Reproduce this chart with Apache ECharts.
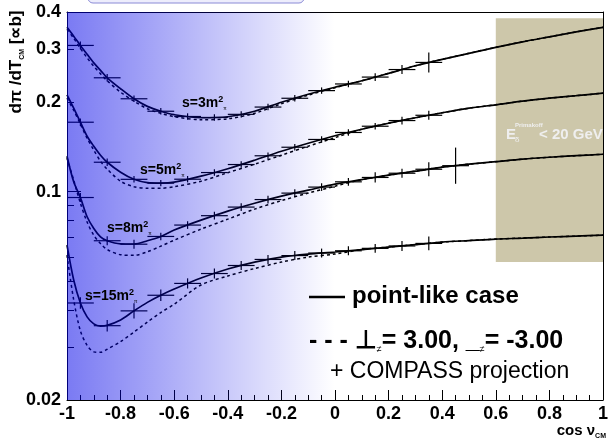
<!DOCTYPE html>
<html><head><meta charset="utf-8">
<script src="https://cdn.jsdelivr.net/npm/echarts@6/dist/echarts.min.js"></script>
<style>html,body{margin:0;padding:0;background:#fff}#c{width:611px;height:439px}</style>
</head><body><div id="c"></div>
<script>
// ---- data ----
const X = [-1, -0.975, -0.95, -0.925, -0.9, -0.875, -0.85, -0.8, -0.75, -0.7, -0.65, -0.6, -0.5, -0.4, -0.3, -0.2, -0.1, 0, 0.1, 0.2, 0.3, 0.4, 0.5, 0.6, 0.7, 0.8, 0.9, 1];
// point-like case (solid)
const S1 = [0.3554, 0.332, 0.309, 0.2886, 0.270, 0.255, 0.2407, 0.2212, 0.2047, 0.193, 0.1859, 0.181, 0.1768, 0.1782, 0.1859, 0.1993, 0.212, 0.2237, 0.2352, 0.2491, 0.2641, 0.2776, 0.2907, 0.3045, 0.3178, 0.3302, 0.343, 0.3554];
const S2 = [0.211, 0.1903, 0.1708, 0.1533, 0.1419, 0.1324, 0.1254, 0.1161, 0.1099, 0.1071, 0.1067, 0.1075, 0.1126, 0.1193, 0.1274, 0.1365, 0.1452, 0.1539, 0.1618, 0.1695, 0.1768, 0.1837, 0.1903, 0.1954, 0.2009, 0.2056, 0.2096, 0.2137];
const S3 = [0.1314, 0.1078, 0.0955, 0.0823, 0.0752, 0.0705, 0.0684, 0.0668, 0.0667, 0.0684, 0.0707, 0.0743, 0.0802, 0.086, 0.0914, 0.0965, 0.1011, 0.1059, 0.1096, 0.1135, 0.117, 0.1207, 0.1235, 0.1259, 0.1284, 0.1303, 0.1319, 0.1334];
const S4 = [0.0661, 0.0505, 0.0423, 0.038, 0.036, 0.0354, 0.0356, 0.0371, 0.0398, 0.0425, 0.0449, 0.0471, 0.0513, 0.055, 0.058, 0.0603, 0.0617, 0.0627, 0.0639, 0.0651, 0.0664, 0.0677, 0.0685, 0.0693, 0.0698, 0.0704, 0.0709, 0.0714];
// polarizabilities 3.00 / -3.00 (dashed)
const D1 = [0.350, 0.3265, 0.302, 0.2809, 0.263, 0.2483, 0.2352, 0.2153, 0.2009, 0.1895, 0.183, 0.1782, 0.1741, 0.1754, 0.183, 0.197, 0.2104, 0.2229, 0.2352, 0.2491, 0.2641, 0.2776, 0.2907, 0.3045, 0.3178, 0.3302, 0.343, 0.3554];
const D2 = [0.2056, 0.1873, 0.1682, 0.151, 0.1376, 0.1264, 0.1189, 0.1083, 0.1038, 0.1026, 0.1026, 0.1038, 0.1083, 0.1157, 0.1235, 0.1324, 0.1419, 0.1516, 0.1618, 0.1695, 0.1768, 0.1837, 0.1903, 0.1954, 0.2009, 0.2056, 0.2096, 0.2137];
const D3 = [0.1294, 0.1092, 0.0914, 0.079, 0.0714, 0.0669, 0.0639, 0.0614, 0.0611, 0.0628, 0.0656, 0.0687, 0.0748, 0.0808, 0.0873, 0.0932, 0.0988, 0.1042, 0.1096, 0.1135, 0.117, 0.1207, 0.1235, 0.1259, 0.1284, 0.1303, 0.1319, 0.1334];
const D4 = [0.0612, 0.0433, 0.0341, 0.0305, 0.029, 0.0289, 0.0296, 0.0314, 0.0338, 0.0365, 0.0393, 0.0419, 0.0486, 0.0521, 0.0552, 0.058, 0.0603, 0.0617, 0.0639, 0.0651, 0.0664, 0.0677, 0.0685, 0.0693, 0.0698, 0.0704, 0.0709, 0.0714];
// COMPASS projection (bin centres, values, relative errors)
const BINS = [-0.95, -0.85, -0.75, -0.65, -0.55, -0.45, -0.35, -0.25, -0.15, -0.05, 0.05, 0.15, 0.25, 0.35, 0.45];
const BIN_HALF = 0.05;
const P1 = [0.309, 0.2407, 0.2047, 0.1859, 0.1785, 0.1772, 0.1815, 0.192, 0.2055, 0.218, 0.2295, 0.242, 0.2565, 0.271];
const P2 = [0.1708, 0.1254, 0.1099, 0.1067, 0.11, 0.1158, 0.1232, 0.1318, 0.1408, 0.1495, 0.1578, 0.1656, 0.173, 0.1802];
const P3 = [0.0955, 0.0684, 0.0666, 0.0707, 0.0772, 0.083, 0.0887, 0.094, 0.0988, 0.1035, 0.1078, 0.1115, 0.1152, 0.1188, 0.1221];
const P4 = [0.0423, 0.0355, 0.0398, 0.0449, 0.0492, 0.0531, 0.0565, 0.0592, 0.061, 0.0622, 0.0633, 0.0645, 0.0657, 0.067];
const E1 = [0.03, 0.03, 0.025, 0.025, 0.025, 0.025, 0.025, 0.025, 0.025, 0.025, 0.025, 0.03, 0.035, 0.08];
const E2 = [0.03, 0.03, 0.025, 0.025, 0.025, 0.025, 0.025, 0.025, 0.025, 0.025, 0.025, 0.025, 0.03, 0.035];
const E3 = [0.035, 0.035, 0.035, 0.03, 0.03, 0.03, 0.03, 0.03, 0.03, 0.03, 0.03, 0.04, 0.035, 0.055, 0.15];
const E4 = [0.045, 0.045, 0.06, 0.045, 0.04, 0.04, 0.035, 0.035, 0.035, 0.035, 0.035, 0.035, 0.04, 0.055];
// axes
const X_MIN = -1, X_MAX = 1, X_STEP = 0.2;
const Y_MIN = 0.02, Y_MAX = 0.4;
const Y_LABELS = [0.02, 0.1, 0.2, 0.3, 0.4];
const Y_MINOR = [0.03, 0.04, 0.05, 0.06, 0.07, 0.08, 0.09, 0.2, 0.3];
const Y_MAJOR = [0.1];
// regions
const BLUE_REGION = [[-1, 0.02], [0, 0.4]];
const TAN_REGION = [[0.6, 0.058], [1, 0.381]];

// ---- chart ----
const FONT = 'Liberation Sans, Arial, Helvetica, sans-serif';
const L = Math.log10;
const chart = echarts.init(document.getElementById('c'), null, {renderer: 'canvas'});

function pairs(xs, ys) { return ys.map((y, i) => [xs[i], y]); }
function crossData(vals, errs) { return vals.map((v, i) => [BINS[i], v, errs[i]]); }

function lineSeries(ys, dashed) {
  return {
    type: 'line', xAxisIndex: 0, yAxisIndex: 0, data: pairs(X, ys), smooth: 0.3,
    showSymbol: false, symbol: 'none', z: 3, silent: true,
    lineStyle: {color: '#000', width: dashed ? 1.5 : 1.7, type: dashed ? [3, 3] : 'solid'}
  };
}
function crossSeries(vals, errs) {
  return {
    type: 'custom', xAxisIndex: 0, yAxisIndex: 0, z: 4, silent: true,
    data: crossData(vals, errs), encode: {x: 0, y: 1},
    renderItem: function (params, api) {
      const x = api.value(0), y = api.value(1), e = api.value(2);
      const a = api.coord([x - BIN_HALF, y]), b = api.coord([x + BIN_HALF, y]);
      const t = api.coord([x, y * (1 + e)]), u = api.coord([x, y / (1 + e)]);
      const st = {stroke: '#000', lineWidth: 1.2};
      return {type: 'group', children: [
        {type: 'line', shape: {x1: a[0], y1: a[1], x2: b[0], y2: b[1]}, style: st},
        {type: 'line', shape: {x1: t[0], y1: t[1], x2: u[0], y2: u[1]}, style: st}
      ]};
    }
  };
}

const sLabelRich = {
  m: {fontSize: 14, fontWeight: 'bold', fontFamily: FONT, color: '#50507e', lineHeight: 16},
  p: {fontSize: 9, fontWeight: 'bold', fontFamily: FONT, color: '#50507e', verticalAlign: 'top', lineHeight: 9},
  q: {fontSize: 5, fontFamily: FONT, color: '#50507e', verticalAlign: 'bottom', lineHeight: 5}
};
function sLabel(txt, x, y) {
  return {type: 'text', x: x, y: y, z: 20, silent: true,
    style: {text: '{m|' + txt + '}{p|2}{q|π}', rich: sLabelRich, align: 'left', verticalAlign: 'middle'}};
}

const option = {
  animation: false,
  backgroundColor: '#fff',
  grid: {left: 67, top: 12, width: 540, height: 388, containLabel: false},
  xAxis: [
    {type: 'value', min: X_MIN, max: X_MAX, interval: X_STEP, position: 'bottom',
      axisLine: {show: true, onZero: false, lineStyle: {color: '#000', width: 1}},
      axisTick: {show: true, inside: true, length: 10, lineStyle: {color: '#000', width: 1}},
      minorTick: {show: true, splitNumber: 4, length: 5, lineStyle: {color: '#000', width: 1}},
      axisLabel: {show: true, margin: 5, fontSize: 18, fontWeight: 'bold', fontFamily: FONT, color: '#000',
        formatter: v => String(Number(v.toFixed(1)))},
      splitLine: {show: false}, minorSplitLine: {show: false}},
    {type: 'value', min: X_MIN, max: X_MAX, position: 'top',
      axisLine: {show: true, onZero: false, lineStyle: {color: '#000', width: 1}},
      axisTick: {show: false}, axisLabel: {show: false}, splitLine: {show: false}}
  ],
  yAxis: [
    {type: 'log', logBase: 10, min: Y_MIN, max: Y_MAX, position: 'left',
      axisLine: {show: true, onZero: false, lineStyle: {color: '#000', width: 1}},
      axisTick: {show: false}, axisLabel: {show: false}, splitLine: {show: false}, minorTick: {show: false}},
    {type: 'value', min: L(Y_MIN), max: L(Y_MAX), position: 'left',
      axisLine: {show: false, onZero: false},
      axisTick: {show: true, inside: true, length: 7, customValues: Y_MINOR.map(L), lineStyle: {color: '#000', width: 1}},
      axisLabel: {show: true, margin: 6, fontSize: 18, fontWeight: 'bold', fontFamily: FONT, color: '#000',
        padding: [5, 0, 0, 0],
        customValues: Y_LABELS.map(L), formatter: v => String(Number(Math.pow(10, v).toPrecision(2)))},
      splitLine: {show: false}},
    {type: 'value', min: L(Y_MIN), max: L(Y_MAX), position: 'left',
      axisLine: {show: false, onZero: false},
      axisTick: {show: true, inside: true, length: 14, customValues: Y_MAJOR.map(L), lineStyle: {color: '#000', width: 1}},
      axisLabel: {show: false}, splitLine: {show: false}},
    {type: 'log', logBase: 10, min: Y_MIN, max: Y_MAX, position: 'right',
      axisLine: {show: true, onZero: false, lineStyle: {color: '#000', width: 1}},
      axisTick: {show: false}, axisLabel: {show: false}, splitLine: {show: false}}
  ],
  series: [
    {type: 'line', xAxisIndex: 0, yAxisIndex: 0, data: [[0.8, 0.1]], showSymbol: false, symbol: 'none',
      lineStyle: {opacity: 0}, silent: true,
      markArea: {z: 1, silent: true, label: {show: false},
        data: [[{coord: TAN_REGION[0], itemStyle: {color: '#cdc7aa'}}, {coord: TAN_REGION[1]}]]}},
    lineSeries(S1, false), lineSeries(S2, false), lineSeries(S3, false), lineSeries(S4, false),
    lineSeries(D1, true), lineSeries(D2, true), lineSeries(D3, true), lineSeries(D4, true),
    crossSeries(P1, E1), crossSeries(P2, E2), crossSeries(P3, E3), crossSeries(P4, E4),
    {type: 'line', xAxisIndex: 0, yAxisIndex: 0, data: [[-0.5, 0.1]], showSymbol: false, symbol: 'none',
      lineStyle: {opacity: 0}, silent: true,
      markArea: {z: 10, silent: true, label: {show: false},
        data: [[{coord: BLUE_REGION[0], itemStyle: {color: {type: 'linear', x: 0, y: 0, x2: 1, y2: 0,
          colorStops: [{offset: 0, color: 'rgba(0,0,232,0.52)'}, {offset: 1, color: 'rgba(0,0,232,0)'}]}}},
          {coord: BLUE_REGION[1]}]]}}
  ],
  graphic: {elements: [
    // clipped title box at the top
    {type: 'rect', z: 20, silent: true, shape: {x: 88, y: -16, width: 216, height: 19, r: 5},
      style: {fill: '#ededfc', stroke: '#8a8ad6', lineWidth: 1}},
    // y title
    {type: 'text', z: 20, silent: true, x: 16, y: 62, rotation: Math.PI / 2,
      style: {text: '{b|dπ /dT}{s|CM}{b| [∝b]}', align: 'center', verticalAlign: 'middle',
        rich: {b: {fontSize: 17, fontWeight: 'bold', fontFamily: FONT, color: '#000', lineHeight: 20},
               s: {fontSize: 7, fontWeight: 'bold', fontFamily: FONT, color: '#000', verticalAlign: 'bottom', lineHeight: 9}}}},
    // x title
    {type: 'text', z: 20, silent: true, x: 606, y: 431,
      style: {text: '{b|cos ν}{s|CM}', align: 'right', verticalAlign: 'middle',
        rich: {b: {fontSize: 15, fontWeight: 'bold', fontFamily: FONT, color: '#000', lineHeight: 17},
               s: {fontSize: 7, fontWeight: 'bold', fontFamily: FONT, color: '#000', verticalAlign: 'bottom', lineHeight: 8}}}},
    // curve labels
    sLabel('s=3m', 182, 103), sLabel('s=5m', 140, 170), sLabel('s=8m', 107, 228), sLabel('s=15m', 85, 296),
    // tan box text
    {type: 'text', z: 20, silent: true, x: 506, y: 135,
      style: {text: 'E', fontSize: 15, fontWeight: 'bold', fontFamily: FONT, fill: '#efefef', align: 'left', verticalAlign: 'middle'}},
    {type: 'text', z: 20, silent: true, x: 515, y: 125,
      style: {text: 'Primakoff', fontSize: 6, fontWeight: 'bold', fontFamily: FONT, fill: '#efefef', align: 'left', verticalAlign: 'middle'}},
    {type: 'text', z: 20, silent: true, x: 515, y: 140,
      style: {text: 'δ', fontSize: 8, fontFamily: FONT, fill: '#efefef', align: 'left', verticalAlign: 'middle'}},
    {type: 'text', z: 20, silent: true, x: 539, y: 135,
      style: {text: '< 20 GeV', fontSize: 15, fontWeight: 'bold', fontFamily: FONT, fill: '#efefef', align: 'left', verticalAlign: 'middle'}},
    // legend-like text
    {type: 'line', z: 20, silent: true, shape: {x1: 309, y1: 297, x2: 345, y2: 297}, style: {stroke: '#000', lineWidth: 2.5}},
    {type: 'text', z: 20, silent: true, x: 352, y: 296,
      style: {text: 'point-like case', fontSize: 24, fontWeight: 'bold', fontFamily: FONT, fill: '#000', align: 'left', verticalAlign: 'middle'}},
    {type: 'text', z: 20, silent: true, x: 309, y: 341,
      style: {text: '{b|- - - ⊥}{s|≠}{b|= 3.00, _}{s|≠}{b|= -3.00}', align: 'left', verticalAlign: 'middle',
        rich: {b: {fontSize: 25, fontWeight: 'bold', fontFamily: FONT, color: '#000', lineHeight: 26},
               s: {fontSize: 9, fontFamily: FONT, color: '#000', verticalAlign: 'bottom', lineHeight: 9}}}},
    {type: 'text', z: 20, silent: true, x: 330, y: 372,
      style: {text: '+ COMPASS projection', fontSize: 23, fontFamily: FONT, fill: '#000', align: 'left', verticalAlign: 'middle'}}
  ]}
};
chart.setOption(option);
</script>
</body></html>
